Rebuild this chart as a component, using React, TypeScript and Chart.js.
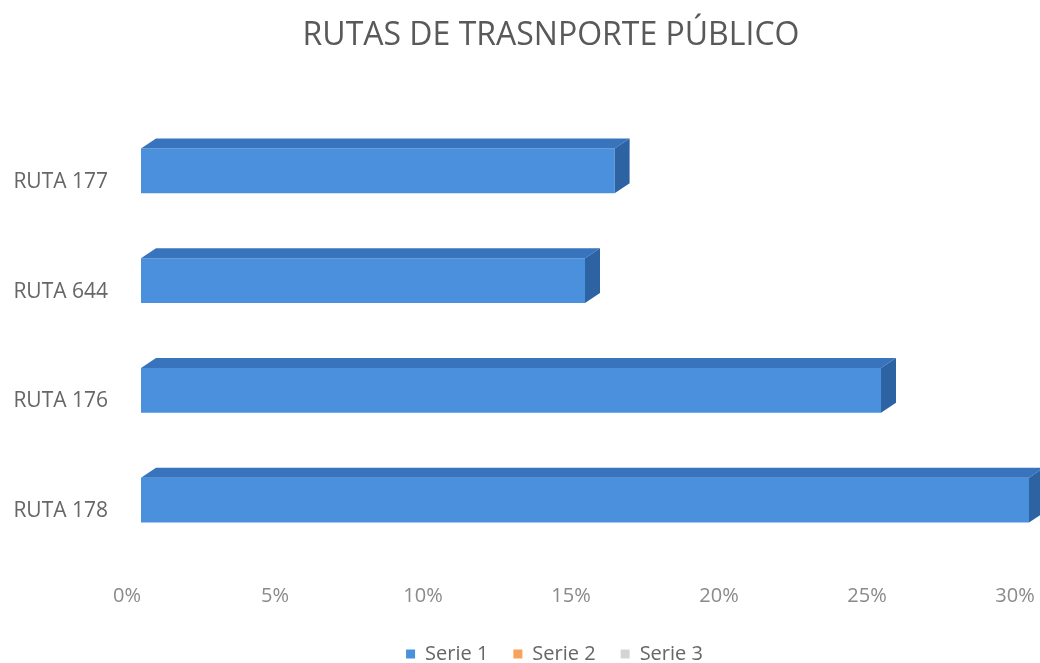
import React, { useEffect, useRef } from "react";
import { Chart, registerables } from "chart.js";

Chart.register(...registerables);

const categories = ["RUTA 177", "RUTA 644", "RUTA 176", "RUTA 178"];
const serie1 = [0.16, 0.15, 0.25, 0.3];
const serie2: (number | null)[] = [null, null, null, null];
const serie3: (number | null)[] = [null, null, null, null];
const seriesNames = ["Serie 1", "Serie 2", "Serie 3"];
const titleText = "RUTAS DE TRASNPORTE PÚBLICO";

const FRONT = "#4b90dc";
const TOP = "#3873be";
const SIDE = "#2d63a3";

const bar3d = {
  id: "bar3d",
  afterLayout(chart: any) {
    if (chart.titleBlock) {
      chart.titleBlock.left = 73;
    }
    if (chart.legend) {
      chart.legend.left = 80;
    }
  },
  afterDatasetsDraw(chart: any) {
    const ctx = chart.ctx;
    const meta = chart.getDatasetMeta(0);
    const dx = 15;
    const dy = 10;
    ctx.save();
    meta.data.forEach((el: any) => {
      const p = el.getProps(["x", "y", "base", "height"], true);
      if (p.x == null || isNaN(p.x)) return;
      const top = p.y - p.height / 2;
      const bottom = p.y + p.height / 2;
      const left = p.base;
      const right = p.x;
      ctx.fillStyle = TOP;
      ctx.beginPath();
      ctx.moveTo(left, top);
      ctx.lineTo(left + dx, top - dy);
      ctx.lineTo(right + dx, top - dy);
      ctx.lineTo(right, top);
      ctx.closePath();
      ctx.fill();
      ctx.fillStyle = SIDE;
      ctx.beginPath();
      ctx.moveTo(right, top);
      ctx.lineTo(right + dx, top - dy);
      ctx.lineTo(right + dx, bottom - dy);
      ctx.lineTo(right, bottom);
      ctx.closePath();
      ctx.fill();
    });
    ctx.restore();
  },
};

export default function App() {
  const ref = useRef<HTMLCanvasElement | null>(null);
  useEffect(() => {
    if (!ref.current) return;
    const chart = new Chart(ref.current, {
      type: "bar",
      data: {
        labels: categories,
        datasets: [
          { label: seriesNames[0], data: serie1, backgroundColor: FRONT, borderWidth: 0 },
          { label: seriesNames[1], data: serie2, backgroundColor: "#f7a35c", borderWidth: 0 },
          { label: seriesNames[2], data: serie3, backgroundColor: "#d4d4d4", borderWidth: 0 },
        ],
      },
      options: {
        indexAxis: "y",
        animation: false,
        responsive: true,
        maintainAspectRatio: false,
        grouped: false,
        categoryPercentage: 1,
        barPercentage: 0.41,
        layout: { padding: { left: 0, right: 11, top: 0, bottom: -11 } },
        scales: {
          x: {
            min: 0,
            max: 0.3,
            grid: { display: false, drawTicks: false },
            border: { display: false },
            afterFit: (s: any) => {
              s.paddingLeft = 0;
              s.paddingRight = 0;
              s.height = 64;
            },
            ticks: {
              stepSize: 0.05,
              padding: 29,
              labelOffset: -14,
              color: "#8a8a8a",
              font: { family: "Open Sans", size: 20 },
              callback: (v: any) => Math.round(Number(v) * 100) + "%",
            },
          },
          y: {
            grid: { display: false, drawTicks: false },
            border: { display: false },
            afterFit: (s: any) => {
              s.width = 141;
            },
            ticks: {
              padding: 33,
              labelOffset: 11,
              color: "#666666",
              font: { family: "Open Sans", size: 21 },
            },
          },
        },
        plugins: {
          title: {
            display: true,
            text: titleText,
            color: "#595959",
            font: { family: "Open Sans", size: 32, weight: "normal" },
            padding: { top: 17, bottom: 60.6 },
          },
          legend: {
            position: "bottom",
            labels: {
              boxWidth: 9,
              boxHeight: 9,
              color: "#666666",
              font: { family: "Open Sans", size: 20 },
              padding: 25,
            },
          },
          tooltip: { enabled: false },
        },
      },
      plugins: [bar3d],
    });
    return () => chart.destroy();
  }, []);
  return (
    <div style={{ position: "fixed", left: 0, top: 0, width: 1040, height: 663, background: "#ffffff" }}>
      <canvas ref={ref} />
    </div>
  );
}
